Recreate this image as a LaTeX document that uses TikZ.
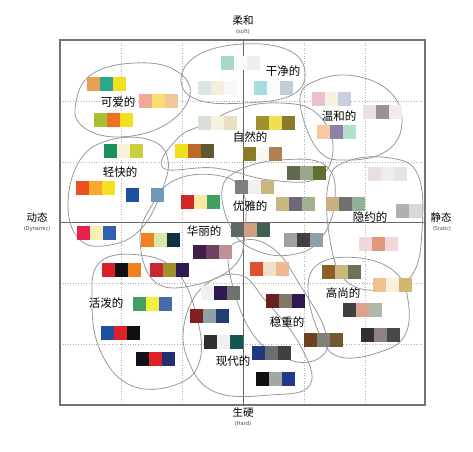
\documentclass[tikz,border=0pt]{standalone}
\usepackage{fontspec}
\setmainfont{Noto Sans}
\newfontfamily\cjk{Noto Sans CJK SC}
\begin{document}
\begin{tikzpicture}[x=1pt,y=-1pt,
  lbl/.style={font=\cjk\fontsize{11.5}{12}\selectfont, inner sep=0pt},
  axl/.style={font=\cjk\fontsize{10.5}{11}\selectfont, inner sep=0pt},
  axs/.style={font=\fontsize{5.5}{6}\selectfont, text=black!70, inner sep=0pt},
  blob/.style={draw=black!40, line width=0.8pt},
  grid/.style={draw=black!30, dotted, line width=0.6pt}]
\newcommand\sw[3]{\definecolor{swc}{HTML}{#3}\fill[swc] (#1,#2) rectangle ++(13,14);}
\fill[white] (0,0) rectangle (473,451);
\useasboundingbox (0,0) rectangle (473,451);
% grid
\foreach \g in {121,182,304,365} \draw[grid] (\g,40) -- (\g,405);
\foreach \g in {101,162,283,344} \draw[grid] (60,\g) -- (425,\g);
% frame and axes
\draw[black!55, line width=1.2pt] (60,40) rectangle (425,405);
\draw[black!60, line width=1pt] (243,40) -- (243,405);
\draw[black!60, line width=1pt] (60,222) -- (425,222);
% axis labels
\node[axl] (top) at (243,21) {柔和};
\node[axs] (tops) at (243,32) {(soft)};
\node[axl] (bot) at (243,413) {生硬};
\node[axs] (bots) at (243,424) {(Hard)};
\node[axl] (lft) at (37,217) {动态};
\node[axs] (lfts) at (37,229) {(Dynamic)};
\node[axl] (rgt) at (441,217) {静态};
\node[axs] (rgts) at (442,229) {(Static)};
% blobs
\draw[blob] plot[smooth cycle, tension=0.7] coordinates {(181,80) (198,55) (243,44) (288,50) (305,72) (292,95) (245,103) (198,100)};
\draw[blob] plot[smooth cycle, tension=0.7] coordinates {(76,102) (92,74) (135,63) (175,70) (190,95) (165,125) (118,137) (82,126)};
\draw[blob] plot[smooth cycle, tension=0.7] coordinates {(300,100) (318,80) (355,76) (390,92) (402,122) (388,150) (350,160) (318,150)};
\draw[blob] plot[smooth cycle, tension=0.7] coordinates {(163,168) (178,138) (205,124) (240,108) (280,103) (315,112) (333,145) (318,178) (270,180) (215,168)};
\draw[blob] plot[smooth cycle, tension=0.7] coordinates {(68,205) (80,160) (110,140) (150,140) (168,160) (160,195) (140,230) (110,245) (80,240)};
\draw[blob] plot[smooth cycle, tension=0.7] coordinates {(140,240) (152,205) (175,180) (215,175) (242,190) (245,230) (235,265) (195,285) (155,282)};
\draw[blob] plot[smooth cycle, tension=0.7] coordinates {(222,190) (240,170) (280,160) (325,165) (335,200) (320,240) (290,255) (255,250) (232,230)};
\draw[blob] plot[smooth cycle, tension=0.7] coordinates {(328,185) (345,162) (390,158) (418,175) (422,230) (412,275) (380,290) (345,280) (330,240)};
\draw[blob] plot[smooth cycle, tension=0.7] coordinates {(92,300) (100,262) (140,255) (175,270) (195,310) (200,360) (175,385) (130,385) (100,350)};
\draw[blob] plot[smooth cycle, tension=0.7] coordinates {(185,320) (205,285) (240,275) (265,300) (300,345) (310,385) (270,395) (215,392) (188,360)};
\draw[blob] plot[smooth cycle, tension=0.7] coordinates {(228,260) (245,240) (275,250) (300,285) (325,330) (322,356) (290,360) (250,330)};
\draw[blob] plot[smooth cycle, tension=0.7] coordinates {(308,290) (320,263) (360,258) (395,272) (408,300) (405,335) (380,352) (340,357) (320,335)};
% swatches
\sw{87}{77}{E8A050}\sw{100}{77}{2BA88A}\sw{113}{77}{F0E020}
\sw{139}{94}{F2A898}\sw{152}{94}{F8E070}\sw{165}{94}{F2C89A}
\sw{94}{113}{A8C030}\sw{107}{113}{F07020}\sw{120}{113}{F0E020}
\sw{221}{56}{A8D8CC}\sw{234}{56}{FAFAFA}\sw{247}{56}{EFEFEF}
\sw{198}{81}{DDE5E0}\sw{211}{81}{F5F0DC}\sw{224}{81}{F8F8F6}
\sw{254}{81}{A8DCE0}\sw{267}{81}{FAFAFA}\sw{280}{81}{C0CCD8}
\sw{198}{116}{D8E0D8}\sw{211}{116}{F5F2E0}\sw{224}{116}{E8E0C0}
\sw{256}{116}{A09030}\sw{269}{116}{F0E050}\sw{282}{116}{8C7A28}
\sw{243}{147}{8C7A28}\sw{256}{147}{F8F8F4}\sw{269}{147}{B08050}
\sw{104}{144}{1A9060}\sw{117}{144}{F8F0D8}\sw{130}{144}{C8D040}
\sw{175}{144}{F0E020}\sw{188}{144}{C06828}\sw{201}{144}{605830}
\sw{312}{92}{E8C0D0}\sw{325}{92}{F8F0E0}\sw{338}{92}{C8D0E0}
\sw{363}{105}{E8E0E8}\sw{376}{105}{A09090}\sw{389}{105}{F0ECEC}
\sw{317}{125}{F8C8A0}\sw{330}{125}{9080A8}\sw{343}{125}{B0E0C8}
\sw{287}{166}{606850}\sw{300}{166}{98A888}\sw{313}{166}{607030}
\sw{235}{180}{808080}\sw{248}{180}{F0F0F0}\sw{261}{180}{C8B880}
\sw{276}{197}{C8B880}\sw{289}{197}{706878}\sw{302}{197}{A0B090}
\sw{326}{197}{C8B080}\sw{339}{197}{707070}\sw{352}{197}{90B098}
\sw{368}{167}{E8E0E0}\sw{381}{167}{F0ECEC}\sw{394}{167}{E8E4E4}
\sw{396}{204}{B0B0B0}\sw{409}{204}{D8D8D8}
\sw{76}{181}{F05020}\sw{89}{181}{F8A830}\sw{102}{181}{F8E020}
\sw{126}{188}{2050A0}\sw{151}{188}{7098B8}
\sw{181}{195}{D02828}\sw{194}{195}{F8E8A0}\sw{207}{195}{40A060}
\sw{77}{226}{E82050}\sw{90}{226}{F8F0B0}\sw{103}{226}{3060B0}
\sw{141}{233}{F08020}\sw{154}{233}{D8E8A8}\sw{167}{233}{103040}
\sw{193}{245}{402048}\sw{206}{245}{704060}\sw{219}{245}{C09098}
\sw{231}{223}{606868}\sw{244}{223}{D0A080}\sw{257}{223}{406050}
\sw{284}{233}{A0A0A0}\sw{297}{233}{404040}\sw{310}{233}{90A0A8}
\sw{359}{237}{F0D8D8}\sw{372}{237}{E09878}\sw{385}{237}{F0D8D8}
\sw{102}{263}{D82028}\sw{115}{263}{101010}\sw{128}{263}{F08020}
\sw{150}{263}{C82830}\sw{163}{263}{A09030}\sw{176}{263}{301850}
\sw{250}{262}{E05030}\sw{263}{262}{F0E0C8}\sw{276}{262}{F0B890}
\sw{322}{265}{8A6028}\sw{335}{265}{C8B880}\sw{348}{265}{707058}
\sw{373}{278}{F0C090}\sw{386}{278}{F8F0D8}\sw{399}{278}{D0B870}
\sw{201}{286}{F0F0F0}\sw{214}{286}{301850}\sw{227}{286}{707070}
\sw{266}{294}{6A2020}\sw{279}{294}{807868}\sw{292}{294}{301850}
\sw{133}{297}{40A060}\sw{146}{297}{F0F040}\sw{159}{297}{4868A8}
\sw{343}{303}{404040}\sw{356}{303}{E0A090}\sw{369}{303}{B0B8A8}
\sw{190}{309}{802020}\sw{203}{309}{90A0A8}\sw{216}{309}{204070}
\sw{101}{326}{2050A0}\sw{114}{326}{E02028}\sw{127}{326}{101010}
\sw{361}{328}{303030}\sw{374}{328}{908088}\sw{387}{328}{484848}
\sw{304}{333}{704020}\sw{317}{333}{808078}\sw{330}{333}{705830}
\sw{204}{335}{303030}\sw{217}{335}{F0F0F0}\sw{230}{335}{105850}
\sw{252}{346}{203880}\sw{265}{346}{6A7070}\sw{278}{346}{404040}
\sw{136}{352}{101018}\sw{149}{352}{E02028}\sw{162}{352}{203070}
\sw{256}{372}{101010}\sw{269}{372}{A0A8A0}\sw{282}{372}{203890}
% labels
\node[lbl] (keai) at (118,102) {可爱的};
\node[lbl] (ganjing) at (283,71) {干净的};
\node[lbl] (wenhe) at (339,116) {温和的};
\node[lbl] (ziran) at (250,137) {自然的};
\node[lbl] (qingkuai) at (120,172) {轻快的};
\node[lbl] (huali) at (204,231) {华丽的};
\node[lbl] (youya) at (250,206) {优雅的};
\node[lbl] (yinyue) at (370,217) {隐约的};
\node[lbl] (huopo) at (106,303) {活泼的};
\node[lbl] (gaoshang) at (343,293) {高尚的};
\node[lbl] (wenzhong) at (287,322) {稳重的};
\node[lbl] (xiandai) at (233,361) {现代的};
\end{tikzpicture}
\end{document}
